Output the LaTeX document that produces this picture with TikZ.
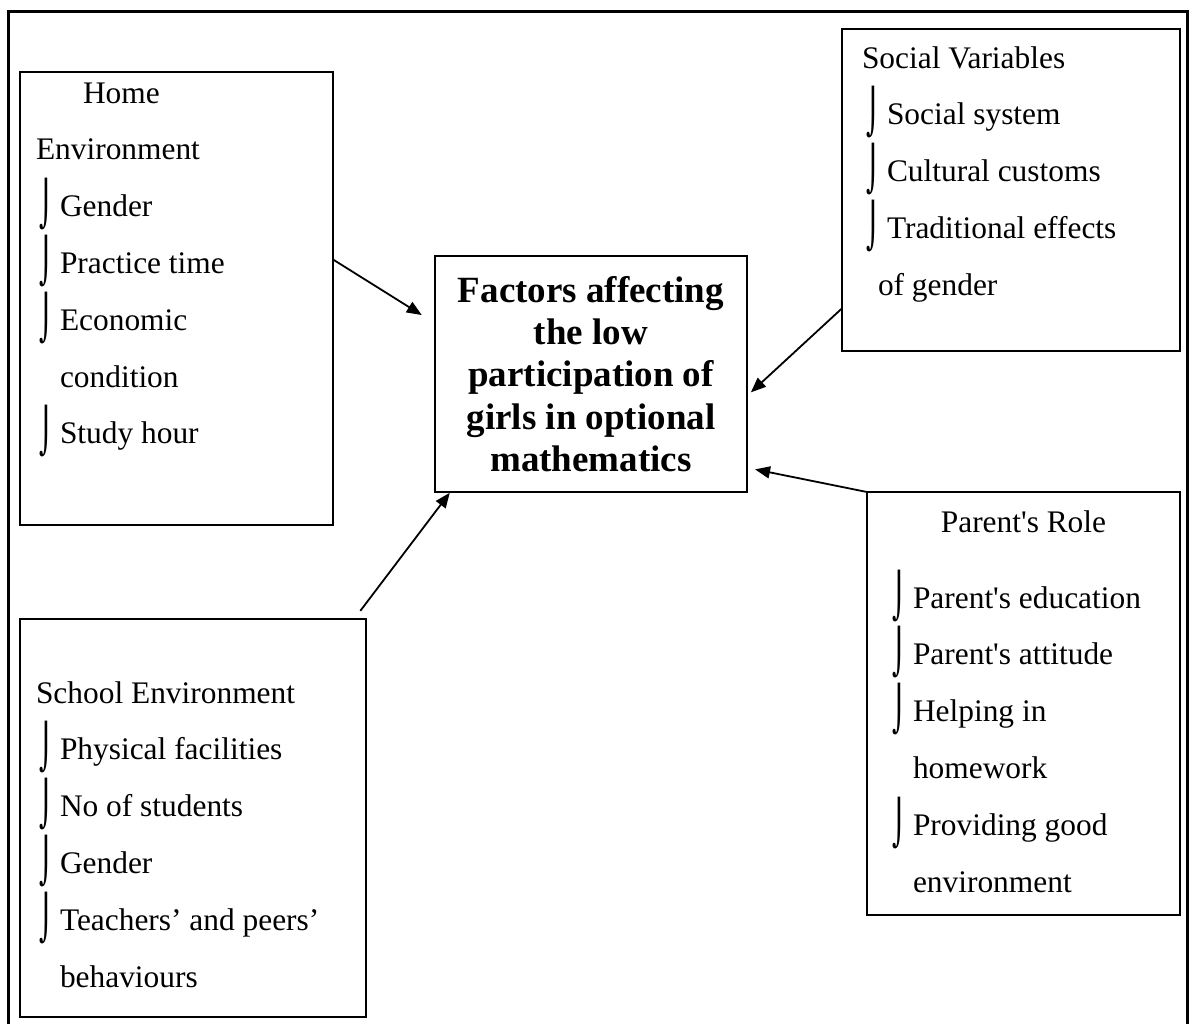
\documentclass[tikz,border=0pt]{standalone}
\usepackage{graphicx}
\usepackage{fontspec}
\setmainfont{Liberation Serif}
\newfontfamily\bulfont{DejaVu Sans}
\usetikzlibrary{arrows.meta}
\newcommand{\boxfont}{\fontsize{15.7pt}{28.4pt}\selectfont}
\newcommand{\bul}{\smash{\raisebox{-1.5pt}{\scalebox{0.85}[1.4]{\bulfont ⌡}}}}
\newcommand{\itm}[2]{\hspace*{#1}\makebox[11.5pt][l]{\hspace{1pt}\bul}#2}

\begin{document}
\begin{tikzpicture}[x=0.5pt,y=-0.5pt,
    box/.style={draw, line width=1pt, inner sep=0pt, outer sep=0pt, anchor=north west},
    factbox/.style={draw, line width=1pt, inner sep=0pt, outer sep=0pt,
      minimum width=156pt, minimum height=118pt, align=center,
      font=\bfseries\fontsize{18.5pt}{21.2pt}\selectfont},
    arr/.style={line width=0.9pt, -{Triangle[length=7.5pt,width=6pt]}}]
    %%%%% START %%%%%
    \useasboundingbox (0,0) rectangle (1193,1023);

    \draw[line width=1.5pt] (8,1040) -- (8,11) -- (1187,11) -- (1187,1040);

    \node[factbox] (fac) at (591,374) {Factors affecting\\the low\\participation of\\girls in optional\\mathematics};

    \node[box] (home) at (20,72) {\begin{minipage}[t][226.5pt][t]{156.5pt}\boxfont
        \vspace*{-4.38pt}
        \hspace*{31.5pt}\strut Home\\
        \hspace*{8pt}Environment\\
        \itm{8.5pt}{Gender}\\
        \itm{8.5pt}{Practice time}\\
        \itm{8.5pt}{Economic}\\
        \hspace*{20pt}condition\\
        \itm{8.5pt}{Study hour}
      \end{minipage}};

    \node[box] (soc) at (842,29) {\begin{minipage}[t][161pt][t]{169pt}\boxfont
        \vspace*{-0.38pt}
        \hspace*{10pt}\strut Social Variables\\
        \itm{11pt}{Social system}\\
        \itm{11pt}{Cultural customs}\\
        \itm{11pt}{Traditional effects}\\
        \hspace*{18pt}of gender
      \end{minipage}};

    \node[box] (par) at (867,492) {\begin{minipage}[t][211.5pt][t]{156.5pt}\boxfont
        \vspace*{0.12pt}
        \makebox[\linewidth]{\strut Parent\textquotesingle s Role}\\[9.6pt]
        \itm{11.5pt}{Parent\textquotesingle s education}\\
        \itm{11.5pt}{Parent\textquotesingle s attitude}\\
        \itm{11.5pt}{Helping in}\\
        \hspace*{23pt}homework\\
        \itm{11.5pt}{Providing good}\\
        \hspace*{23pt}environment
      \end{minipage}};

    \node[box] (sch) at (20,619) {\begin{minipage}[t][199pt][t]{173pt}\boxfont
        \vspace*{22.12pt}
        \hspace*{8pt}\strut School Environment\\
        \itm{8.5pt}{Physical facilities}\\
        \itm{8.5pt}{No of students}\\
        \itm{8.5pt}{Gender}\\
        \itm{8.5pt}{Teachers’ and peers’}\\
        \hspace*{20pt}behaviours
      \end{minipage}};

    \draw[arr, shorten >=7.8pt] (home.14.85) -- (fac.162.4);
    \draw[arr, shorten >=2.65pt] (soc.215.8) -- (fac.352.5);
    \draw[arr, shorten >=4.1pt] (par.north west) -- (fac.329.4);
    \draw[arr, shorten <=5.1pt, shorten >=0.5pt] (sch.51.98) -- (fac.220.1);
    %%%%% END %%%%%
\end{tikzpicture}
\end{document}
